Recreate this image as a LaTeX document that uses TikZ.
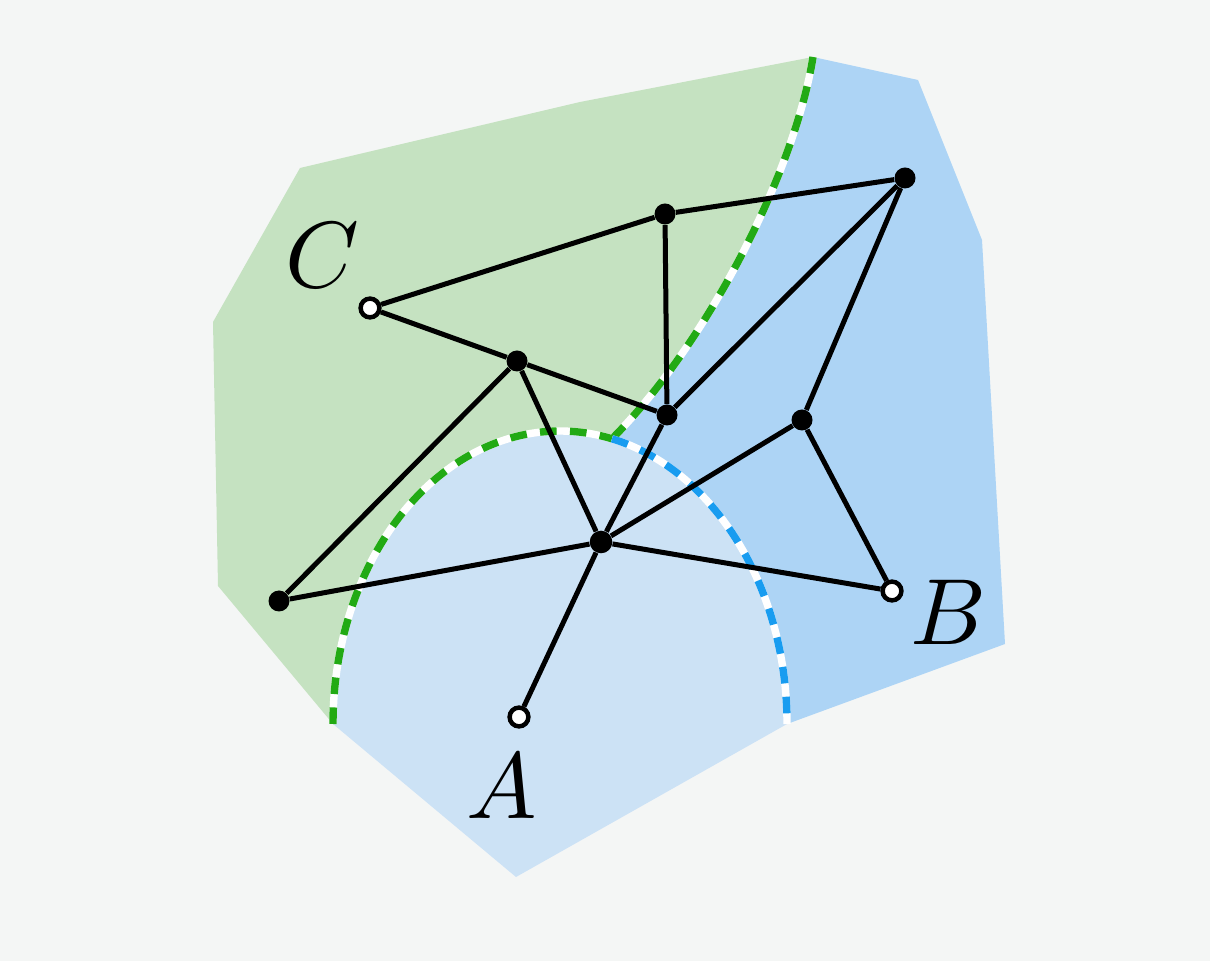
\documentclass[tikz,border=0pt]{standalone}
\usepackage{tikz}

\definecolor{bgcol}{HTML}{F4F6F5}
\definecolor{greenreg}{HTML}{C5E2C1}
\definecolor{bluereg}{HTML}{ADD4F5}
\definecolor{lightreg}{HTML}{CCE2F5}
\definecolor{greendash}{HTML}{22AA14}
\definecolor{bluedash}{HTML}{189CF0}

\tikzset{
  fulldot/.style={circle, fill=black, inner sep=0pt, minimum size=10.5pt},
  opendot/.style={circle, draw=black, fill=white, line width=2.25pt, inner sep=0pt, minimum size=9.4pt},
  link/.style={line width=2.5pt},
  gline/.style={draw=greendash, line width=3.7pt, dash pattern=on 8.3pt off 6.7pt,
    preaction={draw=white, solid, line width=3.7pt}},
  bline/.style={draw=bluedash, line width=3.7pt, dash pattern=on 8.3pt off 6.7pt,
    preaction={draw=white, solid, line width=3.7pt}},
  lab/.style={scale=4.7}
}

\begin{document}
\begin{tikzpicture}[x=0.5pt, y=-0.5pt]
\fill[bgcol] (0,0) rectangle (1210,961);

% regions
\coordinate (T) at (813,57);
\coordinate (J) at (612,438.8);
\coordinate (L) at (333,724);
\coordinate (R) at (787,724);

\fill[bluereg] (T) -- (918,80) -- (982,240) -- (1005,644) -- (R)
  arc[start angle=0, end angle=76.76, x radius=113.5pt, y radius=146.5pt]
  .. controls (710,340) and (795,170) .. (T);
\fill[greenreg] (T) .. controls (795,170) and (710,340) .. (J)
  arc[start angle=76.76, end angle=180, x radius=113.5pt, y radius=146.5pt]
  -- (218,586) -- (213,322) -- (300,168) -- (580,102) -- cycle;
\fill[lightreg] (L) arc[start angle=180, end angle=0, x radius=113.5pt, y radius=146.5pt]
  -- (516,877) -- cycle;

% borders
\draw[gline] (T) .. controls (795,170) and (710,340) .. (J);
\draw[gline] (L) arc[start angle=180, end angle=76.76, x radius=113.5pt, y radius=146.5pt];
\draw[bline] (J) arc[start angle=76.76, end angle=0, x radius=113.5pt, y radius=146.5pt];

% vertices
\node[opendot] (c) at (370,308) {};
\node[opendot] (a) at (519,717) {};
\node[opendot] (b) at (892,591) {};
\node[fulldot] (n1) at (665,214) {};
\node[fulldot] (n2) at (905,178) {};
\node[fulldot] (n3) at (517,361) {};
\node[fulldot] (n4) at (667,415) {};
\node[fulldot] (n5) at (802,420) {};
\node[fulldot, minimum size=11.3pt] (n6) at (601,542) {};
\node[fulldot] (n7) at (279,601) {};

% edges
\draw[link] (c) -- (n1);
\draw[link] (c) -- (n3);
\draw[link] (n1) -- (n2);
\draw[link] (n1) -- (n4);
\draw[link] (n3) -- (n4);
\draw[link] (n3) -- (n7);
\draw[link] (n3) -- (n6);
\draw[link] (n2) -- (n4);
\draw[link] (n2) -- (n5);
\draw[link] (n4) -- (n6);
\draw[link] (n5) -- (n6);
\draw[link] (n5) -- (b);
\draw[link] (n6) -- (n7);
\draw[link] (n6) -- (b);
\draw[link] (n6) -- (a);

% labels
\node[lab] (labc) at (322,255) {$C$};
\node[lab] (laba) at (502,786) {$A$};
\node[lab] (labb) at (948,612) {$B$};
\end{tikzpicture}
\end{document}
